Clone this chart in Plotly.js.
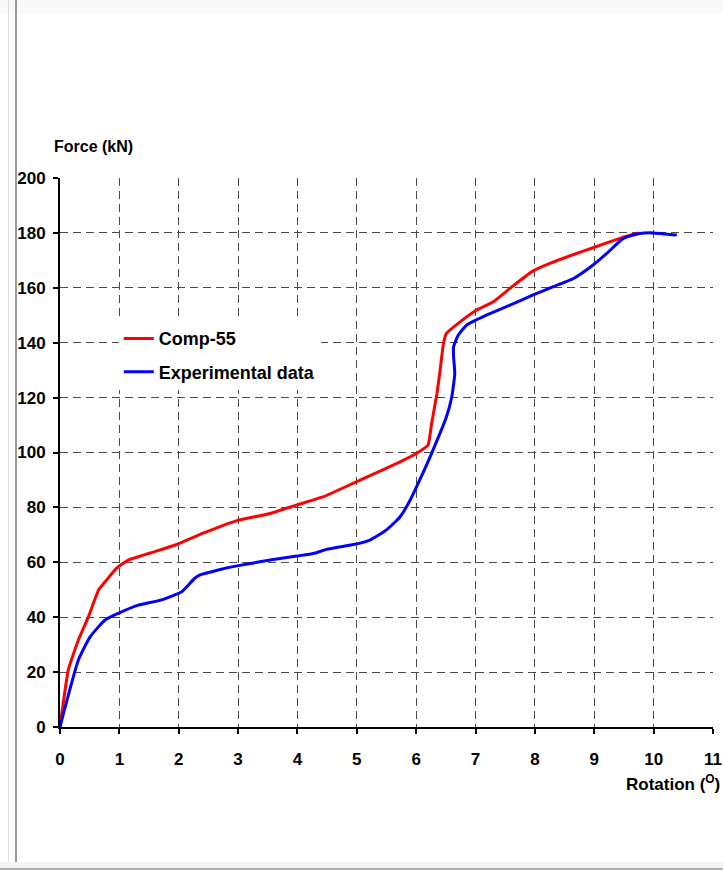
<!DOCTYPE html>
<html>
<head>
<meta charset="utf-8">
<script src="https://cdn.plot.ly/plotly-3.0.1.min.js"></script>
<style>
  html, body { margin: 0; padding: 0; background: #ffffff; }
  #wrap { position: relative; width: 723px; height: 870px; overflow: hidden; }
  #chart { position: absolute; left: 0; top: 0; width: 723px; height: 870px; }
  .frame { position: absolute; pointer-events: none; }
</style>
</head>
<body>
<div id="wrap">
  <div id="chart"></div>
  <!-- page frame around the figure -->
  <div class="frame" style="left:0;top:0;width:723px;height:13px;background:#f9f9f9;"></div>
  <div class="frame" style="left:8px;top:0;width:1px;height:870px;background:#dddddd;"></div>
  <div class="frame" style="left:15px;top:0;width:2px;height:868px;background:#9a9a9a;"></div>
  <div class="frame" style="left:0;top:862px;width:723px;height:6px;background:#f4f4f4;"></div>
  <div class="frame" style="left:0;top:868px;width:723px;height:2px;background:#b0b0b0;"></div>
</div>
<script>
// Comp-55 model: rotation (deg) vs force (kN)
const compRotation = [0, 0.14, 0.31, 0.48, 0.65, 0.76, 0.95, 1.15, 1.6, 1.94, 2.41, 2.98, 3.54, 3.99, 4.44, 5.0, 5.73, 6.01, 6.2, 6.26, 6.35, 6.4, 6.46, 6.51, 6.74, 7.02, 7.3, 7.58, 7.95, 8.25, 8.7, 8.98, 9.32, 9.6, 9.75];
const compForce    = [0, 20.8, 31.7, 40.2, 49.9, 52.9, 57.8, 60.8, 63.9, 66.3, 70.6, 75.2, 77.8, 80.9, 83.9, 89.4, 96.6, 99.7, 102.7, 110.6, 121.5, 129.4, 139.8, 143.4, 147.6, 151.9, 154.9, 159.8, 165.9, 168.9, 172.5, 174.6, 177.2, 179.2, 180.0];

// Experimental test
const expRotation = [0, 0.31, 0.51, 0.76, 0.98, 1.32, 1.71, 2.05, 2.27, 2.36, 2.7, 2.98, 3.54, 3.99, 4.27, 4.49, 5.0, 5.22, 5.5, 5.73, 5.9, 6.06, 6.26, 6.51, 6.6, 6.65, 6.63, 6.63, 6.71, 6.85, 7.19, 7.58, 7.97, 8.31, 8.65, 8.98, 9.21, 9.49, 9.77, 9.99, 10.39];
const expForce    = [0, 24.4, 32.9, 39.0, 41.4, 44.4, 46.3, 49.3, 54.2, 55.4, 57.4, 58.7, 60.8, 62.3, 63.2, 64.7, 66.7, 68.1, 71.8, 76.6, 82.7, 90.0, 99.7, 113.0, 120.3, 128.8, 134.9, 138.5, 142.8, 146.4, 150.1, 153.7, 157.4, 160.4, 163.4, 168.3, 172.5, 178.0, 179.8, 180.0, 179.2];

const xTicks = [0,1,2,3,4,5,6,7,8,9,10,11];
const yTicks = [0,20,40,60,80,100,120,140,160,180,200];

const font = "Liberation Sans, Arial, sans-serif";

const traces = [
  {
    x: compRotation, y: compForce, name: "Comp-55", legendgroup: "a",
    mode: "lines", line: {color: "#ff0000", width: 3, shape: "spline", smoothing: 0.4}
  },
  {
    x: expRotation, y: expForce, name: "Experimental data", legendgroup: "b",
    mode: "lines", line: {color: "#0000ff", width: 3, shape: "spline", smoothing: 0.5}
  }
];

const axisCommon = {
  showline: true, linecolor: "#000000", linewidth: 2,
  ticks: "outside", ticklen: 5, tickwidth: 2, tickcolor: "#000000",
  showgrid: true, gridcolor: "#4a4a4a", gridwidth: 1, griddash: "8px,5px",
  zeroline: false,
  tickfont: {family: font, size: 17, color: "#000000", weight: "bold"}
};

const layout = {
  width: 723, height: 870,
  margin: {l: 60, r: 10, t: 178, b: 143},
  paper_bgcolor: "rgba(0,0,0,0)", plot_bgcolor: "rgba(0,0,0,0)",
  showlegend: true,
  legend: {
    x: 0.09, y: 0.741, xanchor: "left", yanchor: "top",
    bgcolor: "#ffffff", borderwidth: 0,
    font: {family: font, size: 18, color: "#000000", weight: "bold"},
    tracegroupgap: 7
  },
  xaxis: Object.assign({}, axisCommon, {
    range: [0, 11], tickvals: xTicks, ticktext: xTicks.map(String),
    ticklabelstandoff: 11
  }),
  yaxis: Object.assign({}, axisCommon, {
    range: [0, 200], tickvals: yTicks, ticktext: yTicks.map(String),
    ticklabelstandoff: 4
  }),
  annotations: [
    {
      text: "Force (kN)", xref: "paper", yref: "paper",
      x: -0.013, y: 1.057, xanchor: "left", yanchor: "middle", showarrow: false,
      font: {family: font, size: 16, color: "#000000", weight: "bold"}
    },
    {
      text: "Rotation (<sup>O</sup>)", xref: "paper", yref: "paper",
      x: 1.014, y: -0.102, xanchor: "right", yanchor: "middle", showarrow: false,
      font: {family: font, size: 17, color: "#000000", weight: "bold"}
    }
  ]
};

Plotly.newPlot("chart", traces, layout, {displayModeBar: false, staticPlot: true});
</script>
</body>
</html>
